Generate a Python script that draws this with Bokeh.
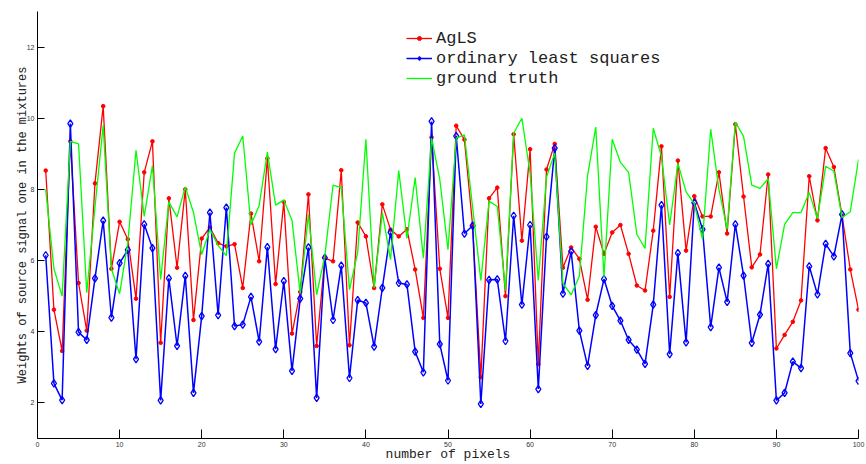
from bokeh.plotting import figure
from bokeh.models import Range1d, FixedTicker, Legend, LegendItem
from bokeh.embed import file_html
from bokeh.resources import INLINE

pixels = list(range(1, 101))

agls = [8.53, 4.62, 3.46, 9.35, 5.37, 4.03, 8.17, 10.34, 5.77, 7.09,
        6.6, 4.93, 8.48, 9.35, 3.69, 7.75, 5.8, 8.0, 4.33, 6.62,
        6.93, 6.49, 6.4, 6.46, 5.23, 7.32, 5.98, 8.87, 5.34, 7.65,
        3.95, 5.12, 7.86, 3.6, 6.07, 5.98, 8.54, 3.62, 7.07, 6.68,
        5.23, 7.58, 6.87, 6.68, 6.88, 5.75, 4.39, 9.46, 5.77, 4.39,
        9.79, 9.4, 6.98, 2.72, 7.75, 8.05, 5.0, 9.55, 6.56, 9.13,
        3.09, 8.56, 9.28, 5.8, 6.37, 6.05, 4.9, 6.95, 6.19, 6.79,
        7.0, 6.19, 5.3, 5.16, 6.84, 9.21, 4.98, 8.81, 6.28, 7.81,
        7.24, 7.24, 8.48, 6.76, 9.83, 7.8, 5.81, 6.17, 8.42, 3.53,
        3.91, 4.28, 4.88, 8.37, 7.13, 9.16, 8.63, 7.26, 5.75, 4.62]

ols = [6.15, 2.55, 2.08, 9.85, 3.99, 3.77, 5.5, 7.12, 4.4, 5.93,
       6.3, 3.23, 7.02, 6.35, 2.07, 5.5, 3.6, 5.57, 2.28, 4.44,
       7.35, 4.47, 7.49, 4.16, 4.2, 4.98, 3.72, 6.38, 3.51, 5.42,
       2.9, 4.93, 6.37, 2.14, 6.08, 4.33, 5.86, 2.7, 4.89, 4.81,
       3.58, 5.23, 6.79, 5.37, 5.33, 3.44, 2.86, 9.91, 3.65, 2.63,
       9.5, 6.76, 6.98, 1.97, 5.46, 5.47, 3.74, 7.26, 4.76, 7.0,
       2.39, 6.67, 9.16, 5.07, 6.26, 4.03, 3.04, 4.47, 5.48, 4.73,
       4.31, 3.77, 3.5, 3.1, 4.76, 7.56, 3.37, 6.21, 3.7, 7.63,
       6.88, 4.13, 5.8, 4.84, 7.02, 5.58, 3.69, 4.48, 5.91, 2.07,
       2.28, 3.16, 2.98, 5.84, 5.05, 6.47, 6.12, 7.3, 3.4, 2.62]

truth = [8.0, 5.77, 5.0, 9.35, 9.28, 5.1, 7.5, 9.8, 5.77, 5.07,
         6.5, 9.1, 7.24, 8.67, 5.47, 7.65, 7.23, 8.07, 7.35, 6.17,
         6.88, 6.42, 6.14, 9.02, 9.5, 7.0, 7.55, 9.05, 7.56, 7.7,
         7.13, 5.07, 7.3, 5.04, 6.14, 8.12, 8.05, 5.18, 6.23, 9.41,
         5.23, 7.35, 6.03, 8.53, 6.62, 8.33, 6.07, 9.44, 8.28, 6.31,
         9.44, 9.53, 7.5, 5.44, 7.67, 7.52, 5.16, 9.58, 10.0, 8.45,
         5.44, 8.35, 9.02, 5.35, 5.04, 5.56, 8.39, 9.75, 5.53, 9.41,
         8.76, 8.48, 6.74, 6.34, 9.72, 8.93, 7.0, 8.73, 7.93, 7.6,
         6.6, 9.69, 8.0, 6.88, 9.89, 9.49, 8.12, 8.03, 8.3, 5.77,
         7.02, 7.35, 7.35, 7.91, 7.18, 8.65, 8.51, 7.21, 7.37, 8.84]

x_ticks = [0, 10, 20, 30, 40, 50, 60, 70, 80, 90, 100]
y_ticks = [2, 4, 6, 8, 10, 12]
series_labels = ["AgLS", "ordinary least squares", "ground truth"]

p = figure(width=866, height=464, output_backend="svg", toolbar_location=None,
           x_range=Range1d(0, 100), y_range=Range1d(1, 13),
           min_border_left=37, min_border_right=8, min_border_top=11, min_border_bottom=23)
p.outline_line_color = None
p.grid.visible = False
p.background_fill_color = "white"
p.border_fill_color = "white"

mono = "Liberation Mono"

for ax, ticks in ((p.xaxis, x_ticks), (p.yaxis, y_ticks)):
    ax.ticker = FixedTicker(ticks=ticks)
    ax.minor_tick_line_color = None
    ax.major_tick_out = 0
    ax.axis_line_color = "black"
    ax.major_tick_line_color = "black"
    ax.major_label_text_font = "Liberation Sans"
    ax.major_label_text_font_size = "7px"
    ax.major_label_text_color = "#333333"
    ax.axis_label_text_font = mono
    ax.axis_label_text_font_style = "normal"
    ax.axis_label_text_color = "#222222"

p.xaxis.major_tick_in = 9
p.yaxis.major_tick_in = 7
p.xaxis.major_label_standoff = 3
p.xaxis.axis_label_standoff = -3
p.xaxis.axis_label = "number of pixels"
p.xaxis.axis_label_text_font_size = "13px"
p.yaxis.major_label_standoff = 3
p.yaxis.axis_label_standoff = -6
p.yaxis.axis_label = "Weights of source signal one in the mixtures"
p.yaxis.axis_label_text_font_size = "12px"

r_line = p.line(pixels, agls, line_color="#ff0000", line_width=1.3)
r_pts = p.scatter(pixels, agls, marker="circle", size=3.6, fill_color="#ff0000", line_color="#ff0000")
b_line = p.line(pixels, ols, line_color="#0000ff", line_width=1.5)
b_pts = p.scatter(pixels, ols, marker="diamond", size=7.5, fill_alpha=0, line_color="#0000ff", line_width=1.3)
g_line = p.line(pixels, truth, line_color="#00ff00", line_width=1.3)

legend = Legend(items=[
    LegendItem(label=series_labels[0], renderers=[r_line, r_pts]),
    LegendItem(label=series_labels[1], renderers=[b_line, b_pts]),
    LegendItem(label=series_labels[2], renderers=[g_line]),
], location=(369, 350))
legend.border_line_alpha = 0
legend.background_fill_alpha = 0
legend.margin = 0
legend.padding = 0
legend.spacing = 0
legend.glyph_width = 26
legend.glyph_height = 10
legend.label_height = 20
legend.label_standoff = 4
legend.label_text_font = mono
legend.label_text_font_size = "17px"
legend.label_text_color = "#222222"
p.add_layout(legend, "center")

open("out.html", "w").write(file_html(p, INLINE))
